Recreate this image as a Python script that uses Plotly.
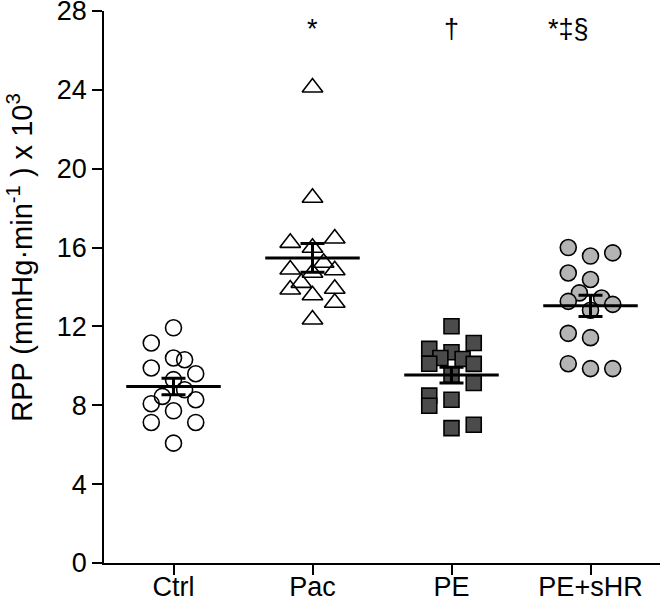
import numpy as np
import plotly.graph_objects as go

categories = ["Ctrl", "Pac", "PE", "PE+sHR"]

ctrl_values = [11.93, 11.16, 10.40, 10.31, 9.89, 9.60, 9.30, 8.79, 8.45, 8.08, 8.28, 7.72, 7.13, 7.13, 6.08]
ctrl_cols = [0, -2, 0, 1, -2, 2, 0, 1, -1, -2, 2, 0, -2, 2, 0]

pac_values = [24.12, 18.53, 16.24, 16.46, 15.99, 15.23, 14.89, 14.85, 14.72, 14.21, 13.87, 13.91, 13.58, 13.20, 12.35]
pac_cols = [0, 0, -2, 2, 0, 1, -2, 2, 0, -1, -2, 2, 0, 2, 0]

pe_values = [12.01, 10.86, 11.16, 10.69, 10.40, 10.35, 10.11, 10.10, 9.55, 9.13, 8.49, 7.98, 8.28, 6.84, 7.01]
pe_cols = [0, -2, 2, 0, -1, 1, -2, 2, 0, 2, -2, -2, 0, 0, 2]

pehr_values = [16.00, 15.57, 15.73, 14.71, 14.38, 13.70, 13.27, 13.44, 13.12, 12.82, 11.65, 11.43, 10.11, 9.86, 9.86]
pehr_cols = [-2, 0, 2, -2, 0, -1, -2, 1, 2, 0, -2, 0, -2, 0, 2]

significance = ["", "*", "†", "*‡§"]
significance_shift = [0, 0, 0, -0.16]

y_title = "RPP (mmHg·min<sup>-1</sup> ) x 10<sup>3</sup>"

groups = [
    (ctrl_values, ctrl_cols, dict(symbol="circle-open", size=16, color="black", line=dict(width=1.6, color="black"))),
    (pac_values, pac_cols, dict(symbol="triangle-up-open", size=18, color="black", line=dict(width=1.6, color="black"))),
    (pe_values, pe_cols, dict(symbol="square", size=15, color="#4b4b4b", line=dict(width=1.6, color="black"))),
    (pehr_values, pehr_cols, dict(symbol="circle", size=16, color="#b4b4b4", line=dict(width=1.6, color="black"))),
]

COL_STEP = 0.08
HALF_MEAN = 0.34
FONT = "Arial, Liberation Sans"

fig = go.Figure()
for i, (vals, cols, mk) in enumerate(groups):
    xc = i + 1
    fig.add_trace(go.Scatter(
        x=[xc + c * COL_STEP for c in cols], y=vals, mode="markers",
        marker=mk, showlegend=False, hoverinfo="skip"))

for i, (vals, cols, mk) in enumerate(groups):
    xc = i + 1
    arr = np.array(vals)
    m = arr.mean()
    sem = arr.std(ddof=1) / np.sqrt(len(arr))
    fig.add_trace(go.Scatter(
        x=[xc - HALF_MEAN, xc + HALF_MEAN], y=[m, m], mode="lines",
        line=dict(color="black", width=3), showlegend=False, hoverinfo="skip"))
    fig.add_trace(go.Scatter(
        x=[xc], y=[m], mode="markers", marker=dict(size=1, color="black", opacity=0),
        error_y=dict(type="data", array=[sem], color="black", thickness=3, width=12),
        showlegend=False, hoverinfo="skip"))

for i, s in enumerate(significance):
    if s:
        fig.add_annotation(x=i + 1 + significance_shift[i], y=27.1, text=s, showarrow=False,
                           font=dict(size=27, color="black", family=FONT),
                           xanchor="center", yanchor="middle")

# y-axis title (sits a little above the axis middle in the reference)
fig.add_annotation(xref="paper", yref="paper", x=-0.151, y=0.553, text=y_title,
                   textangle=-90, showarrow=False, xanchor="center", yanchor="middle",
                   font=dict(size=29, color="black", family=FONT))

fig.update_layout(
    width=661, height=603,
    margin=dict(l=104, r=1, t=11, b=40),
    plot_bgcolor="white", paper_bgcolor="white",
    font=dict(family=FONT, size=27, color="black"),
)
fig.update_xaxes(
    range=[0.5, 4.5], tickvals=[1, 2, 3, 4], ticktext=categories,
    showline=True, linecolor="black", linewidth=1.5, ticks="outside", ticklen=10,
    tickwidth=1.5, tickcolor="black", showgrid=False, zeroline=False,
    tickfont=dict(size=27), automargin=False, ticklabelstandoff=-11,
    ticklabeloverflow="allow")
fig.update_yaxes(
    range=[0, 28], tickvals=[0, 4, 8, 12, 16, 20, 24, 28],
    showline=True, linecolor="black", linewidth=1.5, ticks="outside", ticklen=10,
    tickwidth=1.5, tickcolor="black", showgrid=False, zeroline=False,
    tickfont=dict(size=27), automargin=False, ticklabeloverflow="allow")

# remove the page's default body margin so the figure fills the window exactly
fig.write_html("out.html", config={"displayModeBar": False},
               post_script="document.body.style.margin='0';")
